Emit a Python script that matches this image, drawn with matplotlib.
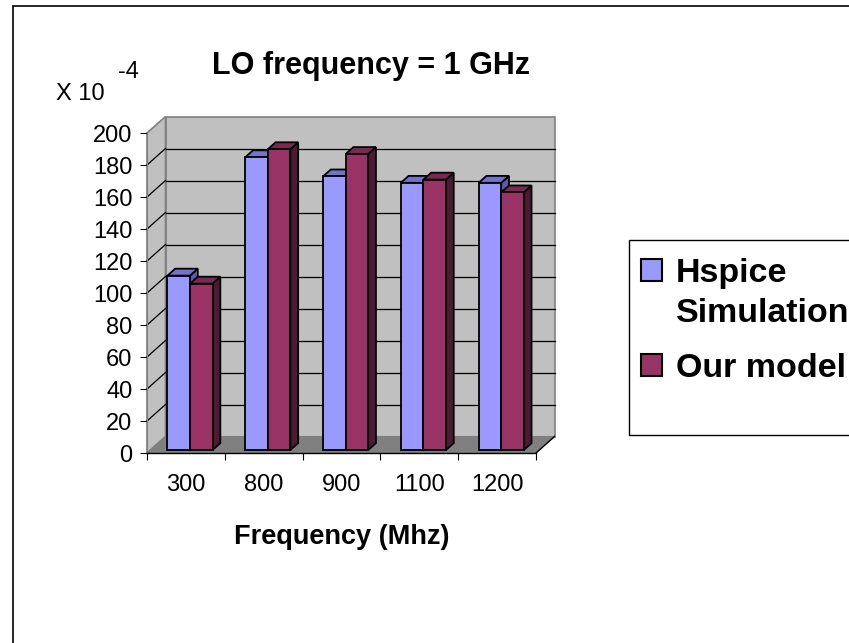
import matplotlib
matplotlib.use("Agg")
import matplotlib.pyplot as plt
from matplotlib.patches import Polygon, Rectangle
from matplotlib.lines import Line2D
from matplotlib.ticker import NullFormatter
from matplotlib.transforms import IdentityTransform, offset_copy
import numpy as np

plt.rcParams["font.family"] = ["Liberation Sans", "DejaVu Sans"]

# LO frequency = 1 GHz, values in units of 1e-4
categories = ["300", "800", "900", "1100", "1200"]
hspice = [109, 183, 171, 167, 167]
model = [104, 188, 185, 169, 161]
y_ticks = list(range(0, 201, 20))
series = [("Hspice\nSimulation", hspice, "#9999FF", "#7373CC", "#5C5CA8"),
          ("Our model", model, "#993366", "#7A2952", "#4D1A33")]

W, H = 849, 643
DX, DY = 18.5, 16.5            # depth of the 3-D box in pixels
T_FRONT, T_BACK = 0.18, 0.60   # depth slice taken by the bars
BAR_X0, BAR_W = 0.22, 0.29

fig = plt.figure(figsize=(W / 100, H / 100), dpi=100)
ax = fig.add_axes([147 / W, (H - 453) / H, (536 - 147) / W, (453 - 133) / H])
ax.set_xlim(0, len(categories))
ax.set_ylim(0, 200)
ax.patch.set_visible(False)
ident = IdentityTransform()


def pt(x, y, t):
    px, py = ax.transData.transform((x, y))
    return (px + t * DX, py + t * DY)


def face(pts, fc, ec="black", lw=1.3, z=1):
    ax.add_patch(Polygon(pts, closed=True, facecolor=fc, edgecolor=ec,
                         linewidth=lw, transform=ident, zorder=z, clip_on=False))


def seg(p0, p1, color="black", lw=0.9, z=1):
    ax.add_line(Line2D([p0[0], p1[0]], [p0[1], p1[1]], color=color,
                       linewidth=lw, transform=ident, zorder=z, clip_on=False))


n = len(categories)
# walls and floor
face([pt(0, 0, 1), pt(n, 0, 1), pt(n, 200, 1), pt(0, 200, 1)], "#C0C0C0", "#808080", 1.2, 0.5)
face([pt(0, 0, 0), pt(0, 200, 0), pt(0, 200, 1), pt(0, 0, 1)], "#C0C0C0", "#808080", 1.2, 0.5)
for v in y_ticks[1:-1]:
    seg(pt(0, v, 1), pt(n, v, 1), z=0.6)
    seg(pt(0, v, 0), pt(0, v, 1), z=0.6)
face([pt(0, 0, 0), pt(n, 0, 0), pt(n, 0, 1), pt(0, 0, 1)], "#808080", "#808080", 0.8, 0.7)
seg(pt(n, 0, 0), pt(n, 0, 1), color="black", lw=1.0, z=0.8)

# bars: front faces through ax.bar, top and side faces as polygons
front = offset_copy(ax.transData, fig=fig, x=T_FRONT * DX, y=T_FRONT * DY, units="dots")
z = 3
for i in range(n):
    for k, (name, vals, c_front, c_top, c_side) in enumerate(series):
        x0 = i + BAR_X0 + k * BAR_W
        x1 = x0 + BAR_W
        v = vals[i]
        face([pt(x1, 0, T_FRONT), pt(x1, v, T_FRONT), pt(x1, v, T_BACK), pt(x1, 0, T_BACK)], c_side, z=z)
        face([pt(x0, v, T_FRONT), pt(x1, v, T_FRONT), pt(x1, v, T_BACK), pt(x0, v, T_BACK)], c_top, z=z)
        ax.bar(x0, v, BAR_W, align="edge", color=c_front, edgecolor="black",
               linewidth=1.3, transform=front, zorder=z + 0.5, clip_on=False)
        z += 1

# axes, ticks and labels
for s in ("top", "right"):
    ax.spines[s].set_visible(False)
ax.spines["left"].set_color("#808080")
ax.spines["bottom"].set_color("black")
ax.spines["bottom"].set_linewidth(1.0)
ax.set_yticks(y_ticks)
ax.tick_params(axis="y", direction="out", length=5, width=0.8, labelsize=17, pad=5.5)
ax.set_xticks(range(n + 1))
ax.xaxis.set_major_formatter(NullFormatter())
ax.set_xticks(np.arange(n) + 0.5, minor=True)
ax.set_xticklabels(categories, minor=True)
ax.tick_params(axis="x", which="major", direction="out", length=5, width=0.8)
ax.tick_params(axis="x", which="minor", length=0, labelsize=17, pad=15)


def fx(px):
    return px / W


def fy(py):
    return 1 - py / H


fig.text(fx(371.5), fy(74), "LO frequency = 1 GHz", fontsize=22, fontweight="bold",
         ha="center", va="baseline")
fig.text(fx(56), fy(100), "X 10", fontsize=17, ha="left", va="baseline")
fig.text(fx(118), fy(78), "-4", fontsize=17, ha="left", va="baseline")
fig.text(fx(341.5), fy(544), "Frequency (Mhz)", fontsize=19.5, fontweight="bold",
         ha="center", va="baseline")

# outer frame
fig.add_artist(Rectangle((13, H - 6 - 700), 900, 700, fill=False, edgecolor="black",
                         linewidth=1.2, transform=ident))

# legend
fig.add_artist(Rectangle((629, H - 435), 260, 195, fill=False, edgecolor="black",
                         linewidth=1.0, transform=ident))
for (name, vals, c_front, c_top, c_side), top in zip(series, (259, 354)):
    fig.add_artist(Rectangle((641, H - top - 22), 21, 22, facecolor=c_front,
                             edgecolor="black", linewidth=1.5, transform=ident))
fig.text(fx(676), fy(281.7), "Hspice", fontsize=24.5, fontweight="bold", va="baseline")
fig.text(fx(676), fy(321.7), "Simulation", fontsize=24.5, fontweight="bold", va="baseline")
fig.text(fx(676), fy(376.7), "Our model", fontsize=24.5, fontweight="bold", va="baseline")

fig.savefig("out.png", dpi=100)
